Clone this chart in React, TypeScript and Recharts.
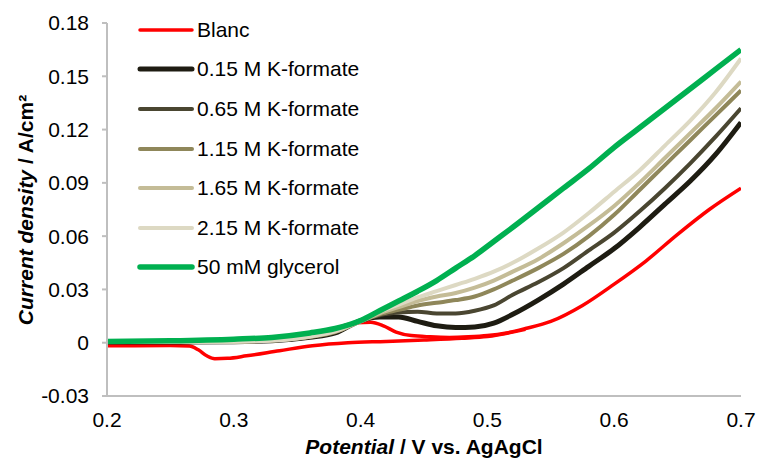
import { Label, Line, LineChart, XAxis, YAxis } from "recharts";

// potential grid (V vs. AgAgCl) shared by the formate / glycerol sweeps
const potential = [
  0.2, 0.25, 0.3, 0.33, 0.36, 0.38, 0.4, 0.415, 0.43, 0.445, 0.46, 0.475, 0.49,
  0.505, 0.52, 0.54, 0.56, 0.58, 0.6, 0.62, 0.64, 0.66, 0.68, 0.7,
];

const formate015 = [
  0.0004, 0.0004, 0.0006, 0.0011, 0.003, 0.0055, 0.0125, 0.0145, 0.0145, 0.012,
  0.0095, 0.0085, 0.0088, 0.011, 0.016, 0.024, 0.033, 0.043, 0.053, 0.065,
  0.078, 0.091, 0.106, 0.124,
];
const formate065 = [
  0.0004, 0.0004, 0.0006, 0.0012, 0.0032, 0.006, 0.0125, 0.0155, 0.017, 0.0175,
  0.0165, 0.0165, 0.018, 0.021, 0.027, 0.034, 0.042, 0.052, 0.062, 0.074,
  0.087, 0.101, 0.116, 0.132,
];
const formate115 = [
  0.0004, 0.0004, 0.0006, 0.0012, 0.0033, 0.006, 0.012, 0.016, 0.0185, 0.021,
  0.0225, 0.024, 0.026, 0.03, 0.035, 0.042, 0.05, 0.06, 0.072, 0.086, 0.1,
  0.114, 0.128, 0.142,
];
const formate165 = [
  0.0004, 0.0004, 0.0006, 0.0012, 0.0034, 0.0062, 0.012, 0.0165, 0.02, 0.0235,
  0.026, 0.028, 0.031, 0.035, 0.04, 0.047, 0.056, 0.066, 0.077, 0.09, 0.104,
  0.118, 0.132, 0.147,
];
const formate215 = [
  0.0004, 0.0004, 0.0006, 0.0012, 0.0035, 0.0065, 0.0125, 0.0175, 0.0215,
  0.0255, 0.029, 0.0325, 0.036, 0.04, 0.045, 0.053, 0.062, 0.073, 0.085, 0.097,
  0.111, 0.125, 0.141, 0.16,
];
const glycerol = [
  0.0007, 0.0011, 0.002, 0.003, 0.0055, 0.008, 0.0125, 0.018, 0.0235, 0.029,
  0.035, 0.042, 0.049, 0.057, 0.065, 0.076, 0.087, 0.098, 0.11, 0.121, 0.132,
  0.143, 0.154, 0.165,
];

// blank CV: anodic and cathodic branches
const blancFwdPotential = [
  0.2, 0.25, 0.3, 0.34, 0.37, 0.385, 0.397, 0.408, 0.418, 0.428, 0.44, 0.455,
  0.47, 0.485, 0.5, 0.515, 0.53, 0.55, 0.575, 0.6, 0.625, 0.65, 0.675, 0.7,
];
const blancFwd = [
  0.0004, 0.0005, 0.0008, 0.0018, 0.0045, 0.0092, 0.0112, 0.0115, 0.0095, 0.006,
  0.004, 0.0033, 0.003, 0.0033, 0.004, 0.0055, 0.008, 0.012, 0.021, 0.033,
  0.046, 0.061, 0.075, 0.087,
];
const blancRevPotential = [
  0.2, 0.25, 0.265, 0.272, 0.279, 0.285, 0.295, 0.31, 0.336, 0.362, 0.39, 0.42,
  0.45, 0.48, 0.5, 0.53,
];
const blancRev = [
  -0.0017, -0.0016, -0.0018, -0.004, -0.0075, -0.009, -0.0088, -0.0074, -0.0045,
  -0.0017, 0, 0.0007, 0.0015, 0.0025, 0.0035, 0.0075,
];

const xTicks = [0.2, 0.3, 0.4, 0.5, 0.6, 0.7];
const yTicks = [-0.03, 0, 0.03, 0.06, 0.09, 0.12, 0.15, 0.18];

const FONT = '"Liberation Sans", Arial, Helvetica, sans-serif';
const AXIS = "#bfbfbf";

const toPoints = (xs: number[], ys: number[]) =>
  ys.map((y, i) => ({ x: xs[i], y }));

const series = [
  { name: "0.15 M K-formate", values: formate015, color: "#1e1c12", width: 5 },
  { name: "0.65 M K-formate", values: formate065, color: "#4a4631", width: 4 },
  { name: "1.15 M K-formate", values: formate115, color: "#8f875a", width: 4 },
  { name: "1.65 M K-formate", values: formate165, color: "#c4bc97", width: 4 },
  { name: "2.15 M K-formate", values: formate215, color: "#ddd9c3", width: 4 },
  { name: "50 mM glycerol", values: glycerol, color: "#00b050", width: 5.5 },
];

const legendItems = [
  { name: "Blanc", color: "#ff0000", width: 3.5 },
  ...series.map((s) => ({ name: s.name, color: s.color, width: s.width })),
];

function ChartLegend() {
  return (
    <div style={{ position: "absolute", left: 136, top: 10, fontFamily: FONT }}>
      {legendItems.map((item) => (
        <div
          key={item.name}
          style={{ display: "flex", alignItems: "center", height: 39.6 }}
        >
          <svg width={60} height={10}>
            <line
              x1={4}
              x2={56}
              y1={5}
              y2={5}
              stroke={item.color}
              strokeWidth={item.width}
              strokeLinecap="round"
            />
          </svg>
          <span style={{ fontSize: 21, color: "#000", marginLeft: 1 }}>
            {item.name}
          </span>
        </div>
      ))}
    </div>
  );
}

export default function App() {
  return (
    <div
      style={{
        position: "absolute",
        left: 0,
        top: 0,
        width: 759,
        height: 462,
        background: "#fff",
      }}
    >
      <LineChart
        width={759}
        height={462}
        margin={{ top: 23, right: 18, bottom: 0, left: 0 }}
      >
        <XAxis
          dataKey="x"
          type="number"
          domain={[0.2, 0.7]}
          ticks={xTicks}
          interval={0}
          height={66}
          allowDataOverflow
          axisLine={{ stroke: AXIS, strokeWidth: 2 }}
          tickLine={false}
          tickSize={0}
          tickMargin={16}
          tick={{ fill: "#000", fontSize: 21, fontFamily: FONT }}
          tickFormatter={(v: number) => v.toFixed(1)}
        >
          <Label
            content={() => (
              <text
                x={424}
                y={454}
                textAnchor="middle"
                fontFamily={FONT}
                fontSize={21}
                fontWeight="bold"
                fill="#000"
              >
                <tspan fontStyle="italic">Potential</tspan>
                <tspan> / V vs. AgAgCl</tspan>
              </text>
            )}
          />
        </XAxis>
        <YAxis
          dataKey="y"
          type="number"
          domain={[-0.03, 0.18]}
          ticks={yTicks}
          interval={0}
          width={107}
          allowDataOverflow
          axisLine={{ stroke: AXIS, strokeWidth: 2 }}
          tickLine={{ stroke: AXIS, strokeWidth: 2 }}
          tickSize={5}
          tickMargin={13}
          tick={{ fill: "#000", fontSize: 21, fontFamily: FONT }}
          tickFormatter={(v: number) => (v === 0 ? "0" : v.toFixed(2))}
        >
          <Label
            content={() => (
              <text
                transform="translate(33,210) rotate(-90)"
                textAnchor="middle"
                fontFamily={FONT}
                fontSize={21}
                fontWeight="bold"
                fill="#000"
              >
                <tspan fontStyle="italic">Current density</tspan>
                <tspan> / A/cm²</tspan>
              </text>
            )}
          />
        </YAxis>
        <Line
          data={toPoints(blancRevPotential, blancRev)}
          dataKey="y"
          type="monotone"
          stroke="#ff0000"
          strokeWidth={3.5}
          dot={false}
          isAnimationActive={false}
        />
        <Line
          data={toPoints(blancFwdPotential, blancFwd)}
          dataKey="y"
          type="monotone"
          stroke="#ff0000"
          strokeWidth={3.5}
          dot={false}
          isAnimationActive={false}
        />
        {series.map((s) => (
          <Line
            key={s.name}
            data={toPoints(potential, s.values)}
            dataKey="y"
            name={s.name}
            type="monotone"
            stroke={s.color}
            strokeWidth={s.width}
            dot={false}
            isAnimationActive={false}
          />
        ))}
      </LineChart>
      <ChartLegend />
    </div>
  );
}
